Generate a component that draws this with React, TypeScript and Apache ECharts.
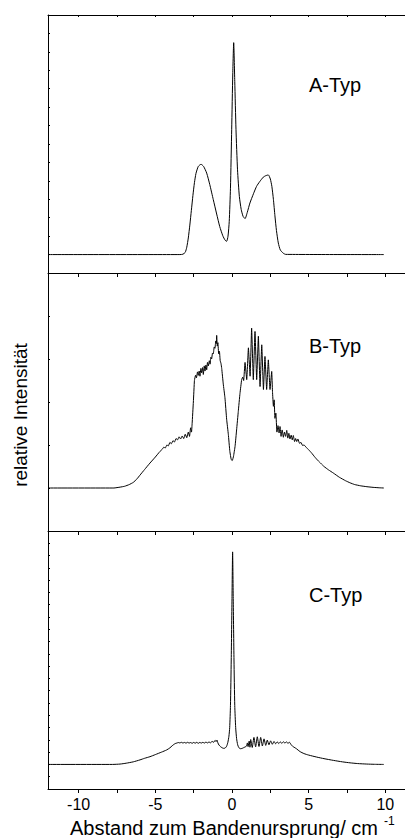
import React, { useEffect, useRef } from "react";
import * as echarts from "echarts";

const FONT = "'Liberation Sans', Arial, sans-serif";

const tickValues = [-10, -7.5, -5, -2.5, 0, 2.5, 5, 7.5, 10];
const labelValues = [-10, -5, 0, 5, 10];
const panelLabels = ["A-Typ", "B-Typ", "C-Typ"];
const yLabel = "relative Intensität";
const xLabel = "Abstand zum Bandenursprung/ cm";
const xLabelSup = "-1";

const typeA: [number, number][] = [
  [-12, 0], [-3.4, 0], [-3.2, 0.02], [-3.05, 0.12], [-2.95, 0.4], [-2.85, 0.9], [-2.75, 1.6],
  [-2.65, 2.4], [-2.55, 3.2], [-2.45, 3.9], [-2.35, 4.4], [-2.2, 4.78], [-2.02, 4.9],
  [-1.85, 4.78], [-1.65, 4.42], [-1.45, 3.8], [-1.22, 2.98], [-1.0, 2.2], [-0.8, 1.52],
  [-0.6, 1.02], [-0.45, 0.78], [-0.35, 0.72], [-0.26, 1.0], [-0.18, 1.8], [-0.1, 3.6],
  [-0.02, 6.8], [0.05, 9.8], [0.11, 11.5], [0.18, 9.4], [0.26, 6.8], [0.36, 4.6],
  [0.48, 3.15], [0.6, 2.45], [0.72, 2.08], [0.85, 1.95], [1.0, 2.3], [1.17, 2.8],
  [1.4, 3.3], [1.6, 3.7], [1.8, 3.95], [2.04, 4.2], [2.2, 4.28], [2.37, 4.32],
  [2.5, 4.1], [2.6, 3.7], [2.7, 3.0], [2.8, 2.1], [2.9, 1.3], [3.02, 0.63],
  [3.15, 0.25], [3.35, 0.07], [3.5, 0.01], [9.9, 0]
];

const typeB: [number, number][] = [
  [-12, 0], [-7.7, 0], [-7.3, 0.02], [-7.0, 0.04], [-6.7, 0.08], [-6.44, 0.13], [-6.2, 0.21],
  [-6.0, 0.3], [-5.7, 0.43], [-5.35, 0.58], [-5.0, 0.72], [-4.7, 0.85], [-4.55, 0.9],
  [-4.45, 0.95], [-4.35, 0.93], [-4.25, 1.0], [-4.15, 0.98], [-4.05, 1.06], [-3.95, 1.03],
  [-3.85, 1.1], [-3.75, 1.07], [-3.65, 1.15], [-3.55, 1.12], [-3.45, 1.19], [-3.35, 1.14],
  [-3.25, 1.21], [-3.15, 1.15], [-3.05, 1.25], [-2.95, 1.17], [-2.85, 1.3], [-2.77, 1.2],
  [-2.7, 1.4], [-2.64, 1.3], [-2.6, 1.5], [-2.52, 2.0], [-2.45, 2.5], [-2.38, 2.62],
  [-2.32, 2.56], [-2.25, 2.7], [-2.2, 2.62], [-2.14, 2.72], [-2.09, 2.6], [-2.03, 2.78],
  [-1.98, 2.68], [-1.92, 2.8], [-1.87, 2.64], [-1.81, 2.84], [-1.76, 2.72], [-1.7, 2.86],
  [-1.65, 2.75], [-1.6, 2.92], [-1.54, 2.84], [-1.48, 2.96], [-1.43, 2.88], [-1.38, 3.04],
  [-1.33, 3.0], [-1.27, 3.14], [-1.22, 3.12], [-1.16, 3.28], [-1.11, 3.25], [-1.06, 3.42],
  [-1.02, 3.36], [-1.0, 3.55], [-0.96, 3.3], [-0.92, 3.38], [-0.87, 3.12], [-0.82, 3.18],
  [-0.77, 2.96], [-0.72, 2.9], [-0.67, 2.78], [-0.57, 2.42], [-0.46, 2.1], [-0.35, 1.6],
  [-0.24, 1.25], [-0.14, 0.85], [-0.05, 0.66], [0.02, 0.64], [0.1, 0.74], [0.2, 0.97],
  [0.3, 1.35], [0.41, 1.78], [0.52, 2.2], [0.63, 2.52], [0.7, 2.58], [0.76, 2.5],
  [0.85, 2.92], [0.96, 2.52], [1.07, 3.26], [1.18, 2.6], [1.28, 3.72], [1.39, 2.52],
  [1.5, 3.64], [1.61, 2.52], [1.72, 3.53], [1.83, 2.36], [1.94, 3.33], [2.05, 2.29],
  [2.15, 3.06], [2.26, 2.29], [2.37, 2.98], [2.48, 2.29], [2.59, 2.71], [2.64, 2.25],
  [2.7, 1.9], [2.75, 2.05], [2.8, 1.62], [2.86, 1.74], [2.93, 1.3], [3.0, 1.45],
  [3.07, 1.28], [3.13, 1.43], [3.2, 1.2], [3.27, 1.35], [3.35, 1.18], [3.42, 1.3],
  [3.5, 1.2], [3.57, 1.34], [3.64, 1.16], [3.71, 1.27], [3.78, 1.14], [3.86, 1.23],
  [3.93, 1.12], [4.0, 1.22], [4.08, 1.08], [4.15, 1.15], [4.22, 1.08], [4.3, 1.14],
  [4.4, 1.04], [4.5, 1.06], [4.6, 0.99], [4.7, 1.0], [4.85, 0.94], [5.0, 0.89],
  [5.2, 0.81], [5.4, 0.72], [5.6, 0.64], [5.8, 0.57], [6.0, 0.5], [6.3, 0.42],
  [6.6, 0.35], [7.0, 0.25], [7.4, 0.17], [7.7, 0.12], [8.0, 0.08], [8.4, 0.05],
  [8.8, 0.03], [9.2, 0.015], [9.6, 0.005], [9.9, 0]
];

const typeC: [number, number][] = [
  [-12, 0], [-7.8, 0], [-7.3, 0.03], [-6.9, 0.1], [-6.44, 0.21], [-6.0, 0.37], [-5.7, 0.5],
  [-5.35, 0.63], [-5.0, 0.8], [-4.6, 1.0], [-4.26, 1.18], [-4.05, 1.35], [-3.9, 1.52],
  [-3.8, 1.62], [-3.7, 1.7], [-3.6, 1.74], [-3.5, 1.78], [-3.4, 1.75], [-3.3, 1.8],
  [-3.2, 1.74], [-3.1, 1.79], [-3.0, 1.73], [-2.9, 1.8], [-2.8, 1.74], [-2.7, 1.78],
  [-2.6, 1.72], [-2.5, 1.79], [-2.4, 1.73], [-2.3, 1.8], [-2.2, 1.72], [-2.1, 1.79],
  [-2.0, 1.74], [-1.9, 1.8], [-1.8, 1.74], [-1.7, 1.82], [-1.6, 1.75], [-1.5, 1.83],
  [-1.4, 1.76], [-1.3, 1.88], [-1.2, 1.8], [-1.1, 1.96], [-1.04, 1.86], [-0.98, 1.98],
  [-0.92, 1.75], [-0.85, 1.58], [-0.75, 1.45], [-0.65, 1.36], [-0.55, 1.31], [-0.45, 1.33],
  [-0.35, 1.48], [-0.27, 1.8], [-0.2, 2.3], [-0.15, 3.0], [-0.1, 4.8], [-0.05, 8.5],
  [0.0, 13.5], [0.04, 17.3], [0.08, 13.5], [0.13, 8.5], [0.18, 4.8], [0.24, 3.0],
  [0.3, 2.1], [0.37, 1.6], [0.45, 1.36], [0.55, 1.28], [0.65, 1.3], [0.75, 1.36],
  [0.85, 1.42], [0.95, 1.5], [1.0, 1.75], [1.05, 1.45], [1.12, 1.9], [1.17, 1.4],
  [1.22, 2.03], [1.32, 1.38], [1.43, 2.2], [1.54, 1.43], [1.65, 2.25], [1.76, 1.46],
  [1.87, 2.2], [1.98, 1.5], [2.09, 2.08], [2.2, 1.55], [2.3, 1.98], [2.41, 1.6],
  [2.52, 1.92], [2.63, 1.64], [2.74, 1.87], [2.85, 1.68], [2.95, 1.84], [3.05, 1.7],
  [3.15, 1.83], [3.25, 1.72], [3.35, 1.84], [3.45, 1.74], [3.55, 1.83], [3.65, 1.72],
  [3.75, 1.8], [3.85, 1.62], [3.95, 1.48], [4.05, 1.4], [4.2, 1.28], [4.43, 1.05],
  [4.7, 0.88], [5.0, 0.76], [5.52, 0.6], [6.0, 0.47], [6.61, 0.33], [7.2, 0.21],
  [7.7, 0.13], [8.2, 0.07], [8.79, 0.03], [9.3, 0.01], [9.9, 0]
];

const yRanges = [
  { min: -1, max: 13 },
  { min: -1, max: 5 },
  { min: -2, max: 19 }
];

export default function App() {
  const ref = useRef<HTMLDivElement>(null);
  useEffect(() => {
    if (!ref.current) return;
    const chart = echarts.init(ref.current, undefined, { renderer: "svg" });
    const axisLine = { show: true, onZero: false, lineStyle: { color: "#000", width: 1 } };
    const grids = [0, 1, 2].map((i) => ({
      left: 40,
      right: 2,
      top: 7 + i * 258,
      height: 258,
      containLabel: false
    }));
    const xAxes: any[] = [0, 1, 2].map((i) => ({
      type: "value",
      gridIndex: i,
      min: -12,
      max: 12,
      position: "bottom",
      axisLine,
      splitLine: { show: false },
      axisTick: {
        show: true,
        inside: false,
        length: 4,
        customValues: tickValues,
        lineStyle: { color: "#000", width: 1 }
      },
      axisLabel: {
        show: i === 2,
        customValues: labelValues,
        margin: 7,
        color: "#000",
        fontSize: 16,
        fontFamily: FONT
      }
    }));
    xAxes.push({
      type: "value",
      gridIndex: 0,
      min: -12,
      max: 12,
      position: "top",
      axisLine,
      splitLine: { show: false },
      axisTick: {
        show: true,
        inside: true,
        length: 2,
        customValues: tickValues,
        lineStyle: { color: "#000", width: 1 }
      },
      axisLabel: { show: false }
    });
    const yAxes = yRanges.map((r, i) => ({
      type: "value",
      gridIndex: i,
      min: r.min,
      max: r.max,
      interval: 1,
      position: "left",
      axisLine,
      splitLine: { show: false },
      axisTick: { show: true, inside: true, length: 2, lineStyle: { color: "#000", width: 1 } },
      axisLabel: { show: false }
    }));
    const datasets = [typeA, typeB, typeC];
    const series = datasets.map((d, i) => ({
      type: "line",
      xAxisIndex: i,
      yAxisIndex: i,
      data: d,
      showSymbol: false,
      symbol: "none",
      smooth: i === 1 ? 0.1 : 0.2,
      lineStyle: { color: "#000", width: 1 },
      silent: true
    }));
    const labelYs = [77, 338, 587];
    const graphic: any[] = panelLabels.map((t, i) => ({
      type: "text",
      x: 301,
      y: labelYs[i],
      style: { text: t, fontSize: 20, fontFamily: FONT, fill: "#000", align: "left", verticalAlign: "middle" }
    }));
    graphic.push({
      type: "text",
      x: 12,
      y: 407,
      rotation: Math.PI / 2,
      style: {
        text: yLabel,
        fontSize: 19,
        fontFamily: FONT,
        fill: "#000",
        align: "center",
        verticalAlign: "middle"
      }
    });
    graphic.push({
      type: "text",
      x: 62,
      y: 820,
      style: {
        text: xLabel,
        fontSize: 20,
        fontFamily: FONT,
        fill: "#000",
        align: "left",
        verticalAlign: "middle"
      }
    });
    graphic.push({
      type: "text",
      x: 376,
      y: 813,
      style: {
        text: xLabelSup,
        fontSize: 12,
        fontFamily: FONT,
        fill: "#000",
        align: "left",
        verticalAlign: "middle"
      }
    });
    chart.setOption({
      animation: false,
      backgroundColor: "#fff",
      grid: grids,
      xAxis: xAxes,
      yAxis: yAxes,
      series,
      graphic
    });
    return () => chart.dispose();
  }, []);
  return (
    <div style={{ width: 405, height: 830, overflow: "hidden" }}>
      <div ref={ref} style={{ width: 410, height: 830 }} />
    </div>
  );
}
